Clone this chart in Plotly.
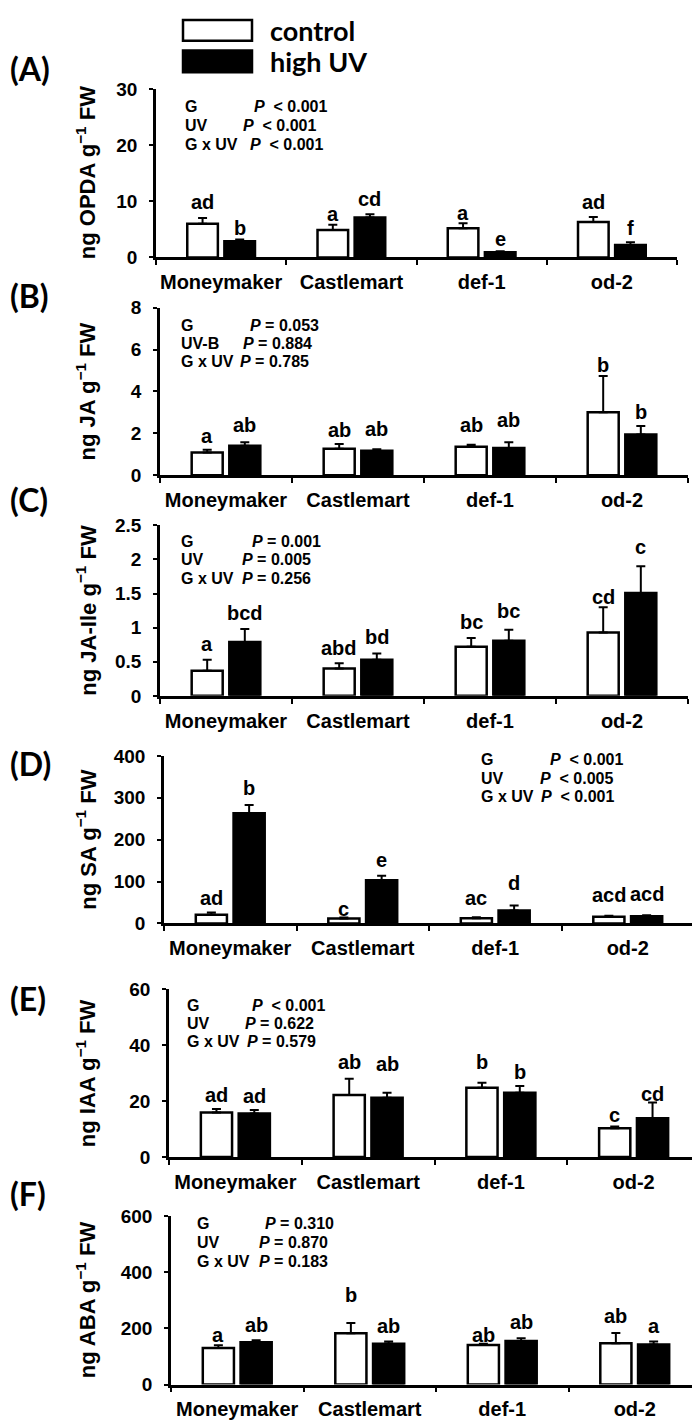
import plotly.graph_objects as go

W, H = 700, 1424

cats = ["Moneymaker", "Castlemart", "def-1", "od-2"]

# panel data: control mean/err, high UV mean/err, letters (ctrl, uv per genotype)
opda_ctrl = [6.0, 4.9, 5.2, 6.3]
opda_ctrl_err = [1.0, 0.9, 0.9, 0.9]
opda_uv = [2.9, 7.1, 0.9, 2.2]
opda_uv_err = [0.3, 0.6, 0.2, 0.5]
opda_letters = ["ad", "b", "a", "cd", "a", "e", "ad", "f"]

ja_ctrl = [1.08, 1.26, 1.36, 3.0]
ja_ctrl_err = [0.13, 0.23, 0.09, 1.74]
ja_uv = [1.40, 1.16, 1.30, 1.94]
ja_uv_err = [0.17, 0.08, 0.27, 0.41]
ja_letters = ["a", "ab", "ab", "ab", "ab", "ab", "b", "b"]

jaile_ctrl = [0.37, 0.40, 0.72, 0.93]
jaile_ctrl_err = [0.16, 0.08, 0.13, 0.37]
jaile_uv = [0.79, 0.53, 0.81, 1.51]
jaile_uv_err = [0.19, 0.09, 0.16, 0.39]
jaile_letters = ["a", "bcd", "abd", "bd", "bc", "bc", "cd", "c"]

sa_ctrl = [21, 12, 12.5, 16]
sa_ctrl_err = [5, 2, 2.5, 2.5]
sa_uv = [263, 103, 31, 17]
sa_uv_err = [20, 11, 12, 2.5]
sa_letters = ["ad", "b", "c", "e", "ac", "d", "acd", "acd"]

iaa_ctrl = [15.9, 22.2, 24.8, 10.3]
iaa_ctrl_err = [1.3, 5.8, 1.8, 0.6]
iaa_uv = [15.6, 21.2, 23.0, 13.9]
iaa_uv_err = [1.2, 1.8, 2.4, 5.6]
iaa_letters = ["ad", "ad", "ab", "ab", "b", "b", "c", "cd"]

aba_ctrl = [130, 183, 141, 147]
aba_ctrl_err = [10, 36, 4, 37]
aba_uv = [151, 145, 155, 143]
aba_uv_err = [7, 8, 10, 10]
aba_letters = ["a", "ab", "b", "ab", "ab", "ab", "ab", "a"]

y_titles = ["ng OPDA g<sup>−1</sup> FW", "ng JA g<sup>−1</sup> FW",
            "ng JA-Ile g<sup>−1</sup> FW", "ng SA g<sup>−1</sup> FW",
            "ng IAA g<sup>−1</sup> FW", "ng ABA g<sup>−1</sup> FW"]
y_max = [30, 8, 2.5, 400, 60, 600]
y_dtick = [10, 2, 0.5, 100, 20, 200]
panel_tags = ["(A)", "(B)", "(C)", "(D)", "(E)", "(F)"]

stats = [
    [("G", "<i>P</i>  &lt; 0.001"), ("UV", "<i>P</i>  &lt; 0.001"), ("G x UV", "<i>P</i>  &lt; 0.001")],
    [("G", "<i>P</i> = 0.053"), ("UV-B", "<i>P</i> = 0.884"), ("G x UV", "<i>P</i> = 0.785")],
    [("G", "<i>P</i> = 0.001"), ("UV", "<i>P</i> = 0.005"), ("G x UV", "<i>P</i> = 0.256")],
    [("G", "<i>P</i>  &lt; 0.001"), ("UV", "<i>P</i>  &lt; 0.005"), ("G x UV", "<i>P</i>  &lt; 0.001")],
    [("G", "<i>P</i>  &lt; 0.001"), ("UV", "<i>P</i> = 0.622"), ("G x UV", "<i>P</i> = 0.579")],
    [("G", "<i>P</i> = 0.310"), ("UV", "<i>P</i> = 0.870"), ("G x UV", "<i>P</i> = 0.183")],
]

panels = [
    (opda_ctrl, opda_ctrl_err, opda_uv, opda_uv_err, opda_letters),
    (ja_ctrl, ja_ctrl_err, ja_uv, ja_uv_err, ja_letters),
    (jaile_ctrl, jaile_ctrl_err, jaile_uv, jaile_uv_err, jaile_letters),
    (sa_ctrl, sa_ctrl_err, sa_uv, sa_uv_err, sa_letters),
    (iaa_ctrl, iaa_ctrl_err, iaa_uv, iaa_uv_err, iaa_letters),
    (aba_ctrl, aba_ctrl_err, aba_uv, aba_uv_err, aba_letters),
]

# ---------------- layout geometry (pixels) ----------------
boxes = [  # x0, x1, y_top, y_bottom
    (148, 669, 72, 243),
    (152, 680, 294, 464),
    (152, 680, 515, 688),
    (156, 686, 749, 919),
    (161, 692, 986, 1156),
    (163, 693, 1216, 1387),
]
letter_lift = [  # pixel gap between error cap and letter
    [8, 3, 3, 7, 2, 4, 7, 6],
    [5.6, 9, 5.6, 12, 11.7, 14, 2.6, 5.7],
    [8, 8.3, 6.7, 8.3, 7.7, 11, 2.7, 11.7],
    [6.3, 8.7, 1, 7.3, 11, 14, 13, 13],
    [5.6, 5.6, 8.4, 21, 12.7, 5.7, 3.3, 1],
    [2, 7, 19.7, 8, 1, 8.3, 9, 8],
]
stats_pos = [  # x of label, x of P for 3 lines, y of 3 lines
    (175, [244, 233, 240], [90, 109, 128]),
    (171, [240, 233, 230], [312, 330, 349]),
    (171, [242, 232, 232], [531, 550, 569]),
    (471, [540, 530, 531], [753, 772, 790]),
    (177, [242, 235, 237], [1002, 1021, 1039]),
    (187, [255, 249, 249], [1224, 1243, 1262]),
]
tag_y = [51, 282, 489, 757, 995, 1193]
title_x = 78

FONT = "Liberation Sans, Arial, sans-serif"
TAGFONT = "Lato, Liberation Sans, sans-serif"
OFF_C, OFF_U, BW = -0.26, 0.025, 0.235

def px(x):
    return x / W

def py(y):
    return 1 - y / H

fig = go.Figure()
annotations = []
shapes = []

for k, (ctrl, cerr, uv, uerr, letters) in enumerate(panels):
    n = k + 1
    xa = "x" if n == 1 else f"x{n}"
    ya = "y" if n == 1 else f"y{n}"
    fig.add_trace(go.Bar(
        x=cats, y=ctrl, xaxis=xa, yaxis=ya, name="control",
        offset=OFF_C, width=BW, showlegend=False,
        marker=dict(color="white", line=dict(color="black", width=2.5)),
        error_y=dict(type="data", array=cerr, arrayminus=[0] * 4, symmetric=False,
                     color="black", thickness=2, width=4.5)))
    fig.add_trace(go.Bar(
        x=cats, y=uv, xaxis=xa, yaxis=ya, name="high UV",
        offset=OFF_U, width=BW, showlegend=False,
        marker=dict(color="black", line=dict(color="black", width=2.5)),
        error_y=dict(type="data", array=uerr, arrayminus=[0] * 4, symmetric=False,
                     color="black", thickness=2, width=4.5)))

    x0, x1, yt, yb = boxes[k]
    fig.layout[f"xaxis{n if n > 1 else ''}"] = dict(
        domain=[px(x0), px(x1)], anchor=ya, type="category",
        categoryorder="array", categoryarray=cats, range=[-0.5, 3.5],
        tickson="boundaries", ticks="outside", ticklen=5, tickwidth=2, tickcolor="black",
        showline=True, linewidth=2.5, linecolor="black", showgrid=False,
        tickangle=0,
        tickfont=dict(family=FONT, size=20, color="black", weight="bold"),
        ticklabelstandoff=5)
    fig.layout[f"yaxis{n if n > 1 else ''}"] = dict(
        domain=[py(yb), py(yt)], anchor=xa, range=[0, y_max[k]], dtick=y_dtick[k],
        tick0=0, ticks="outside", ticklen=4, tickwidth=2, tickcolor="black",
        showline=True, linewidth=2.5, linecolor="black", showgrid=False, zeroline=False,
        tickfont=dict(family=FONT, size=19, color="black", weight="bold"),
        ticklabelstandoff=8)

    # significance letters
    for g in range(4):
        for s, (vals, errs, off) in enumerate([(ctrl, cerr, OFF_C), (uv, uerr, OFF_U)]):
            idx = 2 * g + s
            annotations.append(dict(
                x=g + off + BW / 2, y=vals[g] + errs[g], xref=xa, yref=ya,
                text=letters[idx], showarrow=False, xanchor="center", yanchor="bottom",
                yshift=letter_lift[k][idx] - 4, borderpad=0,
                font=dict(family=FONT, size=20, color="black", weight="bold")))

    # y-axis title
    annotations.append(dict(
        x=px(title_x), y=py((yt + yb) / 2), xref="paper", yref="paper",
        text=y_titles[k], textangle=-90, showarrow=False,
        xanchor="center", yanchor="middle",
        font=dict(family=FONT, size=22, color="black", weight="bold")))

    # panel tag
    annotations.append(dict(
        x=0, y=py(tag_y[k]), xref="paper", yref="paper", text=panel_tags[k],
        showarrow=False, xanchor="left", yanchor="middle",
        font=dict(family=TAGFONT, size=32, color="black", weight="bold")))

    # statistics block
    lx, pxs, lys = stats_pos[k]
    for (lab, ptxt), pxp, ly in zip(stats[k], pxs, lys):
        annotations.append(dict(
            x=px(lx), y=py(ly), xref="paper", yref="paper", text=lab,
            showarrow=False, xanchor="left", yanchor="middle",
            font=dict(family=FONT, size=16, color="black", weight="bold")))
        annotations.append(dict(
            x=px(pxp), y=py(ly), xref="paper", yref="paper", text=ptxt,
            showarrow=False, xanchor="left", yanchor="middle",
            font=dict(family=FONT, size=16, color="black", weight="bold")))

# legend (drawn)
legend_items = [("control", "white", 2, 23), ("high UV", "black", 33, 55)]
for name, col, y0, y1 in legend_items:
    shapes.append(dict(type="rect", xref="paper", yref="paper",
                       x0=px(175), x1=px(244), y0=py(y1), y1=py(y0),
                       fillcolor=col, line=dict(color="black", width=2.5)))
    annotations.append(dict(
        x=px(260), y=py((y0 + y1) / 2), xref="paper", yref="paper", text=name,
        showarrow=False, xanchor="left", yanchor="middle",
        font=dict(family=TAGFONT, size=27, color="black", weight="bold")))

fig.update_layout(
    width=W, height=H, margin=dict(l=0, r=0, t=0, b=0),
    paper_bgcolor="white", plot_bgcolor="white", barmode="overlay",
    annotations=annotations, shapes=shapes, showlegend=False)

fig.write_html("out.html")
